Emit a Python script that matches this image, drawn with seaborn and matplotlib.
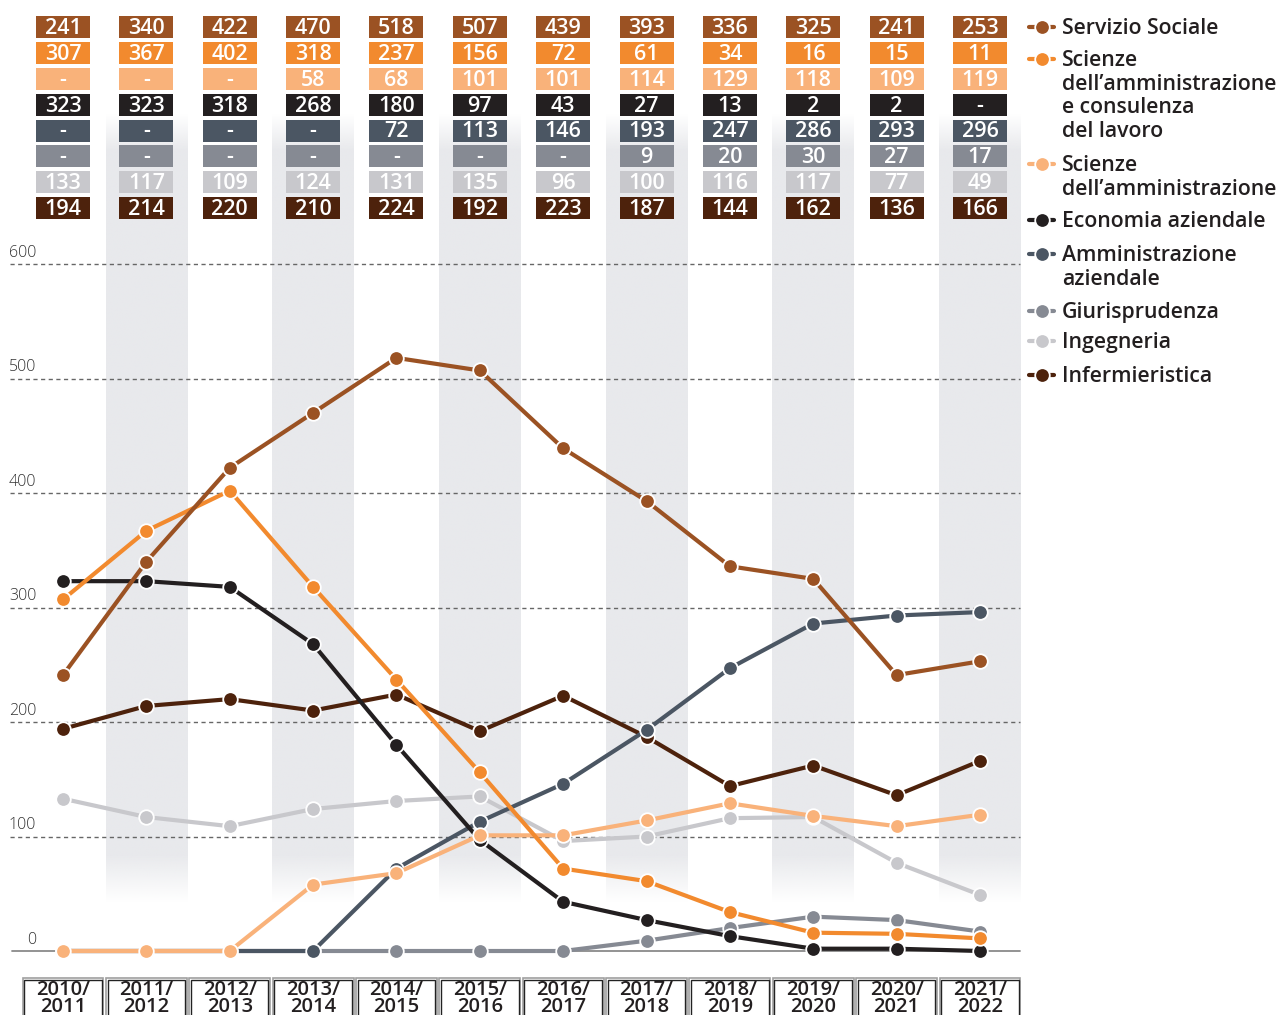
import numpy as np
import pandas as pd
import matplotlib
matplotlib.use("Agg")
import matplotlib.pyplot as plt
from matplotlib.patches import Rectangle
from matplotlib.lines import Line2D
import seaborn as sns

# ======================= Data =======================
anni = ["2010/\n2011", "2011/\n2012", "2012/\n2013", "2013/\n2014", "2014/\n2015", "2015/\n2016",
        "2016/\n2017", "2017/\n2018", "2018/\n2019", "2019/\n2020", "2020/\n2021", "2021/\n2022"]

corsi = ["Servizio Sociale",
         "Scienze\ndell’amministrazione\ne consulenza\ndel lavoro",
         "Scienze\ndell’amministrazione",
         "Economia aziendale",
         "Amministrazione\naziendale",
         "Giurisprudenza",
         "Ingegneria",
         "Infermieristica"]

servizio_sociale = [241, 340, 422, 470, 518, 507, 439, 393, 336, 325, 241, 253]
scienze_amm_consulenza = [307, 367, 402, 318, 237, 156, 72, 61, 34, 16, 15, 11]
scienze_amm = [None, None, None, 58, 68, 101, 101, 114, 129, 118, 109, 119]
economia_aziendale = [323, 323, 318, 268, 180, 97, 43, 27, 13, 2, 2, None]
amministrazione_aziendale = [None, None, None, None, 72, 113, 146, 193, 247, 286, 293, 296]
giurisprudenza = [None, None, None, None, None, None, None, 9, 20, 30, 27, 17]
ingegneria = [133, 117, 109, 124, 131, 135, 96, 100, 116, 117, 77, 49]
infermieristica = [194, 214, 220, 210, 224, 192, 223, 187, 144, 162, 136, 166]

serie = [servizio_sociale, scienze_amm_consulenza, scienze_amm, economia_aziendale,
         amministrazione_aziendale, giurisprudenza, ingegneria, infermieristica]

colori = ["#9B5223", "#F28A2E", "#F9B27A", "#231F20",
          "#4B5663", "#868A93", "#C8C8CC", "#4D220C"]

y_ticks = [0, 100, 200, 300, 400, 500, 600]

# ======================= Layout =======================
W, H = 1284, 1015
X0, DX = 63.0, 83.36      # pixel of first column, column spacing
Y0, SY = 951.0, 1.145     # pixel of value 0, pixels per unit

FONT = ["Open Sans", "DejaVu Sans"]


def ydata(py):
    return (Y0 - py) / SY


def xdata(px):
    return (px - X0) / DX


# long-form frame (dash values are drawn on the zero line)
rows = []
for nome, vals in zip(corsi, serie):
    for i, v in enumerate(vals):
        rows.append({"anno": i, "corso": nome, "valore": 0 if v is None else v})
df = pd.DataFrame(rows)

sns.set_theme(style="white")
plt.rcParams["font.family"] = FONT

fig = plt.figure(figsize=(W / 100, H / 100), dpi=100)
ax = fig.add_axes([0, 0, 1, 1])
ax.axis("off")

# alternating grey bands with soft fade at top and bottom
band_top, band_bot = ydata(113), ydata(903)
n = 400
yy = np.linspace(band_top, band_bot, n)
alpha = np.ones(n)
fade_top = yy > ydata(150)
alpha[fade_top] = (band_top - yy[fade_top]) / (band_top - ydata(150))
fade_bot = yy < ydata(855)
alpha[fade_bot] = (yy[fade_bot] - band_bot) / (ydata(855) - band_bot)
alpha = np.clip(alpha, 0, 1)
grad = np.zeros((n, 1, 4))
grad[:, 0, :3] = matplotlib.colors.to_rgb("#E8E9EC")
grad[:, 0, 3] = alpha
for i in range(1, len(anni), 2):
    ax.imshow(grad, extent=(i - 0.49, i + 0.49, band_bot, band_top),
              aspect="auto", origin="upper", zorder=0, interpolation="bilinear")

# gridlines and y labels
for t in y_ticks:
    if t == 0:
        ax.plot([xdata(12), xdata(1020)], [0, 0], color="#8A8A8A", lw=1.3, zorder=1)
    else:
        ax.plot([xdata(10), xdata(1020)], [t, t], color="#666666", lw=1.0,
                ls=(0, (3, 2.5)), zorder=1)
    ax.text(xdata(9 if t else 27), t + 3, str(t), fontsize=11.5, color="#333333",
            ha="left", va="bottom", fontweight="light", zorder=2)

# lines (last in legend drawn first, so first legend entries sit on top)
sns.lineplot(data=df, x="anno", y="valore", hue="corso", hue_order=corsi[::-1],
             palette=dict(zip(corsi, colori)), marker="o", markersize=10.5,
             markeredgecolor="white", markeredgewidth=1.3, linewidth=3,
             legend=False, ax=ax, zorder=3)
ax.set_xlim(xdata(0), xdata(W))
ax.set_ylim(ydata(H), ydata(0))

# value table on top
row_py = [27, 53, 79, 105, 130.5, 156, 182, 208]
box_h = 22 / SY
box_w = 54 / DX
for r, (vals, col) in enumerate(zip(serie, colori)):
    yc = ydata(row_py[r])
    for i, v in enumerate(vals):
        ax.add_patch(Rectangle((i - box_w / 2, yc - box_h / 2), box_w, box_h,
                               facecolor=col, edgecolor="none", zorder=4))
        ax.text(i, yc - 1.0, "-" if v is None else str(v), ha="center", va="center",
                color="white", fontsize=15.5, fontweight="semibold", zorder=5)

# year boxes at the bottom
lab_top = ydata(978)
lab_bot = ydata(1020)
for i, lab in enumerate(anni):
    ax.add_patch(Rectangle((i - 0.485, lab_bot), 0.97, lab_top - lab_bot,
                           facecolor="white", edgecolor="#A0A0A0", lw=1.2, zorder=4))
    ax.add_patch(Rectangle((i - 0.465, lab_bot), 0.93, lab_top - lab_bot - 2.0 / SY,
                           facecolor="white", edgecolor="#222222", lw=1.0, zorder=4))
    ax.text(i, ydata(980), lab, ha="center", va="top", fontsize=14.5,
            fontweight="semibold", color="#231F20", linespacing=0.8, zorder=5)

# legend on the right
leg_py = [27, 59, 164, 220, 254, 311, 341, 375]
for nome, col, py in zip(corsi, colori, leg_py):
    yf = 1 - py / H
    fig.add_artist(Line2D([1029 / W, 1054 / W], [yf, yf], color=col, lw=3,
                          transform=fig.transFigure))
    fig.add_artist(Line2D([1041.5 / W], [yf], marker="o", markersize=10.5,
                          markerfacecolor=col, markeredgecolor="white",
                          markeredgewidth=1.3, transform=fig.transFigure))
    fig.text(1062 / W, yf + 9 / H, nome, ha="left", va="top", fontsize=15.3,
             fontweight="semibold", color="#231F20", linespacing=1.17)

fig.savefig("out.png", dpi=100)
